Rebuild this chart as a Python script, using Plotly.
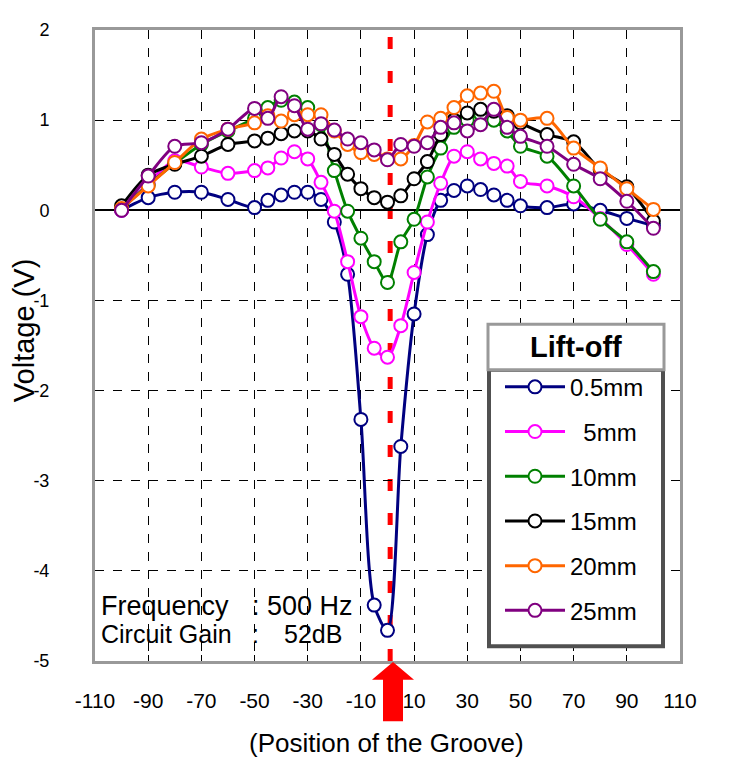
import plotly.graph_objects as go

positions = [-100, -90, -80, -70, -60, -50, -45, -40, -35, -30, -25, -20, -15, -10, -5,
             0, 5, 10, 15, 20, 25, 30, 35, 40, 45, 50, 60, 70, 80, 90, 100]

v_05mm = [0.0, 0.14, 0.2, 0.2, 0.12, 0.03, 0.11, 0.17, 0.2, 0.2, 0.12, -0.13, -0.71, -2.32, -4.38,
          -4.66, -2.62, -1.15, -0.27, 0.11, 0.22, 0.27, 0.23, 0.17, 0.11, 0.05, 0.03, 0.07, 0.0, -0.09, -0.17]
v_5mm = [0.0, 0.3, 0.55, 0.48, 0.41, 0.44, 0.47, 0.58, 0.65, 0.57, 0.31, -0.01, -0.57, -1.18, -1.53,
         -1.63, -1.28, -0.69, -0.13, 0.3, 0.6, 0.65, 0.57, 0.52, 0.49, 0.32, 0.27, 0.15, -0.09, -0.38, -0.71]
v_10mm = [0.02, 0.28, 0.52, 0.73, 0.88, 1.02, 1.14, 1.22, 1.2, 1.14, 0.95, 0.44, -0.01, -0.31, -0.57,
          -0.80, -0.35, -0.1, 0.37, 0.69, 0.92, 1.0, 1.07, 1.0, 0.88, 0.71, 0.6, 0.27, -0.1, -0.35, -0.68]
v_15mm = [0.05, 0.39, 0.51, 0.6, 0.73, 0.77, 0.8, 0.85, 0.88, 0.88, 0.79, 0.62, 0.40, 0.24, 0.14,
          0.09, 0.16, 0.35, 0.54, 0.84, 1.0, 1.08, 1.12, 1.1, 1.05, 0.97, 0.84, 0.76, 0.45, 0.26, -0.12]
v_20mm = [0.02, 0.27, 0.53, 0.79, 0.9, 0.97, 1.05, 0.99, 1.06, 1.06, 1.06, 0.88, 0.73, 0.64, 0.62,
          0.57, 0.57, 0.72, 0.98, 1.02, 1.14, 1.27, 1.30, 1.32, 1.03, 1.0, 1.02, 0.69, 0.47, 0.24, 0.01]
v_25mm = [0.0, 0.38, 0.71, 0.75, 0.9, 1.13, 1.02, 1.26, 1.16, 0.9, 0.96, 0.89, 0.79, 0.75, 0.67,
          0.56, 0.73, 0.71, 0.75, 0.92, 0.97, 0.88, 0.95, 1.12, 0.92, 0.82, 0.71, 0.51, 0.35, 0.1, -0.2]

series_names = ["0.5mm", "\u00a0\u00a05mm", "10mm", "15mm", "20mm", "25mm"]
series_values = [v_05mm, v_5mm, v_10mm, v_15mm, v_20mm, v_25mm]
series_colors = ["#000080", "#FF00FF", "#008000", "#000000", "#FF6600", "#800080"]

x_ticks = [-110, -90, -70, -50, -30, -10, 10, 30, 50, 70, 90, 110]
y_ticks = [-5, -4, -3, -2, -1, 0, 1, 2]
groove_x = 1

# page has an 8px body margin; the figure is sized to fit the 730x759 window
OFF = 8
W, H = 730 - OFF, 759 - OFF
PL, PR, PT, PB = 95, 680, 22, 661          # plot area in page pixels
L, R, T, B = PL - OFF, W - (PR - OFF), PT - OFF, H - (PB - OFF)
pw, ph = PR - PL, PB - PT


def px(xp):
    return (xp - PL) / pw


def py(yp):
    return (PB - yp) / ph


FONT = "Liberation Sans, Arial, sans-serif"
NARROW = "Liberation Sans Narrow, Arial Narrow, Liberation Sans, sans-serif"

fig = go.Figure()
for i, (name, vals, col) in enumerate(zip(series_names, series_values, series_colors)):
    fig.add_trace(go.Scatter(
        x=positions, y=vals, name=name, mode="lines+markers",
        legendgroup=f"g{i}",
        line=dict(color=col, width=3, shape="spline", smoothing=0.8),
        marker=dict(symbol="circle", size=13, color="white", line=dict(color=col, width=2)),
    ))

fig.update_layout(
    width=W, height=H,
    margin=dict(l=L, r=R, t=T, b=B),
    plot_bgcolor="white", paper_bgcolor="white",
    font=dict(family=FONT, color="black"),
    showlegend=True,
    legend=dict(
        x=px(500), y=py(361), xanchor="left", yanchor="top",
        bgcolor="rgba(0,0,0,0)", borderwidth=0,
        font=dict(size=24, family=FONT),
        tracegroupgap=10.5, itemwidth=60, traceorder="grouped",
    ),
)

fig.update_xaxes(
    range=[-110, 110], tickvals=x_ticks, ticktext=[str(t) for t in x_ticks],
    showgrid=True, gridcolor="black", gridwidth=1, griddash="dash",
    zeroline=False,
    showline=True, linecolor="#999999", linewidth=3, mirror="ticks",
    ticks="inside", ticklen=6, tickcolor="black",
    tickfont=dict(size=21, family=NARROW),
    ticklabelstandoff=19,
)
fig.update_yaxes(
    range=[-5, 2], tickvals=y_ticks, ticktext=[str(t) for t in y_ticks],
    showgrid=True, gridcolor="black", gridwidth=1, griddash="dash",
    zeroline=True, zerolinecolor="black", zerolinewidth=2,
    showline=True, linecolor="#999999", linewidth=3, mirror="ticks",
    ticks="inside", ticklen=6, tickcolor="black",
    tickfont=dict(size=18),
    ticklabelstandoff=39,
)

# groove marker line
fig.add_shape(type="line", xref="x", yref="paper", x0=groove_x, x1=groove_x, y0=0, y1=1,
              line=dict(color="red", width=5, dash="12px,22px"), layer="between")

# red arrow below axis
cx = 393
tip, base, bottom = 662, 680, 722
hw, sw = 21, 10
path = (f"M{px(cx)},{py(tip)} L{px(cx + hw)},{py(base)} L{px(cx + sw)},{py(base)} "
        f"L{px(cx + sw)},{py(bottom)} L{px(cx - sw)},{py(bottom)} L{px(cx - sw)},{py(base)} "
        f"L{px(cx - hw)},{py(base)} Z")
fig.add_shape(type="path", xref="paper", yref="paper", path=path,
              fillcolor="red", line=dict(color="red", width=0), layer="above")

# legend boxes
fig.add_shape(type="rect", xref="paper", yref="paper",
              x0=px(489), x1=px(663), y0=py(646), y1=py(366),
              fillcolor="white", line=dict(color="#505050", width=4), layer="above")
fig.add_shape(type="rect", xref="paper", yref="paper",
              x0=px(488), x1=px(664), y0=py(366), y1=py(320),
              fillcolor="white", line=dict(color="#999999", width=3), layer="above")
fig.add_annotation(xref="paper", yref="paper", x=px(576), y=py(343),
                   text="<b>Lift-off</b>", showarrow=False,
                   font=dict(size=29, family=FONT),
                   xanchor="center", yanchor="middle")

# measurement conditions
fig.add_annotation(xref="paper", yref="paper", x=px(99), y=py(605), text="Frequency",
                   showarrow=False, xanchor="left", yanchor="middle", font=dict(size=27))
fig.add_annotation(xref="paper", yref="paper", x=px(250), y=py(605), text=": 500 Hz",
                   showarrow=False, xanchor="left", yanchor="middle", font=dict(size=27))
fig.add_annotation(xref="paper", yref="paper", x=px(99), y=py(634), text="Circuit Gain",
                   showarrow=False, xanchor="left", yanchor="middle", font=dict(size=25))
fig.add_annotation(xref="paper", yref="paper", x=px(250), y=py(634), text=":",
                   showarrow=False, xanchor="left", yanchor="middle", font=dict(size=25))
fig.add_annotation(xref="paper", yref="paper", x=px(282), y=py(634), text="52dB",
                   showarrow=False, xanchor="left", yanchor="middle", font=dict(size=25))

# axis titles
fig.add_annotation(xref="paper", yref="paper", x=px(24), y=py(327), text="Voltage (V)",
                   textangle=-90, showarrow=False, xanchor="center", yanchor="middle",
                   font=dict(size=29))
fig.add_annotation(xref="paper", yref="paper", x=px(386), y=py(744),
                   text="(Position of the Groove)", showarrow=False,
                   xanchor="center", yanchor="middle",
                   font=dict(size=26, family=FONT))

fig.write_html("out.html")
